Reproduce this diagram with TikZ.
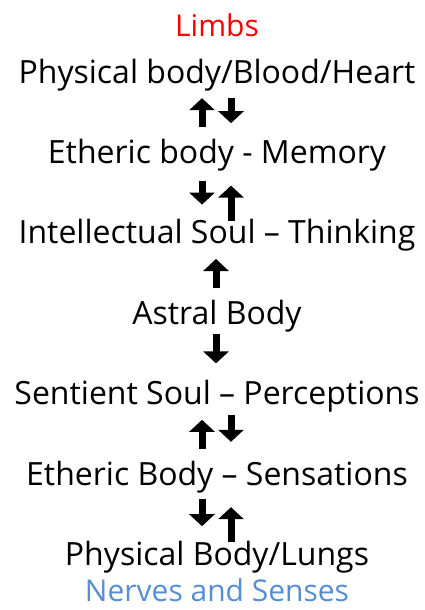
\documentclass[tikz,border=0pt]{standalone}
\usepackage{fontspec}
\setmainfont{Open Sans}
\usetikzlibrary{arrows.meta,positioning}
\definecolor{limbred}{RGB}{255,0,0}
\definecolor{nerveblue}{RGB}{85,142,213}
\tikzset{
  layer/.style={
    inner sep=0pt,
    text height=23pt,
    text depth=7pt,
    font=\fontsize{32}{36}\selectfont
  },
  pole/.style={
    inner sep=0pt,
    text height=21pt,
    text depth=0pt,
    font=\fontsize{30}{34}\selectfont
  },
  uparrow/.style={
    -{Triangle[width=25pt,length=12pt]},
    line width=7pt,
    shorten <=13pt,
    shorten >=8pt
  },
  downarrow/.style={
    -{Triangle[width=25pt,length=12pt]},
    line width=7pt,
    shorten <=8pt,
    shorten >=17pt
  }
}
\begin{document}
\begin{tikzpicture}[x=1pt,y=-1pt,node distance=50pt]
  \useasboundingbox (0,0) rectangle (424,610);
  \node[layer, anchor=base] (heart) at (217,83) {Physical body/Blood/Heart};
  \node[layer, below=of heart] (ether) {Etheric body - Memory};
  \node[layer, below=of ether] (intellect) {Intellectual Soul – Thinking};
  \node[layer, below=of intellect] (astral) {Astral Body};
  \node[layer, below=of astral] (sentient) {Sentient Soul – Perceptions};
  \node[layer, below=of sentient] (etherbody) {Etheric Body – Sensations};
  \node[layer, below=of etherbody] (lungs) {Physical Body/Lungs};
  \node[pole, text=limbred, above=23pt of heart] (limbs) {Limbs};
  \node[pole, text=nerveblue, below=8pt of lungs] (nerves) {Nerves and Senses};
  \draw[uparrow] ([xshift=-15pt]ether.north) -- ([xshift=-15pt]heart.south);
  \draw[downarrow] ([xshift=14pt]heart.south) -- ([xshift=14pt]ether.north);
  \draw[downarrow, shorten <=10pt, shorten >=16pt] ([xshift=-15pt]ether.south) -- ([xshift=-15pt]intellect.north);
  \draw[uparrow, shorten <=0pt, shorten >=15pt] ([xshift=14pt]intellect.north) -- ([xshift=14pt]ether.south);
  \draw[uparrow] ([xshift=-1pt]astral.north) -- ([xshift=-1pt]intellect.south);
  \draw[downarrow, shorten <=3pt, shorten >=18pt] ([xshift=-1pt]astral.south) -- ([xshift=-1pt]sentient.north);
  \draw[uparrow] ([xshift=-15pt]etherbody.north) -- ([xshift=-15pt]sentient.south);
  \draw[downarrow, shorten <=3pt, shorten >=20pt] ([xshift=14pt]sentient.south) -- ([xshift=14pt]etherbody.north);
  \draw[downarrow, shorten <=7pt, shorten >=16pt] ([xshift=-15pt]etherbody.south) -- ([xshift=-15pt]lungs.north);
  \draw[uparrow, shorten <=0pt, shorten >=15pt] ([xshift=14pt]lungs.north) -- ([xshift=14pt]etherbody.south);
\end{tikzpicture}
\end{document}
